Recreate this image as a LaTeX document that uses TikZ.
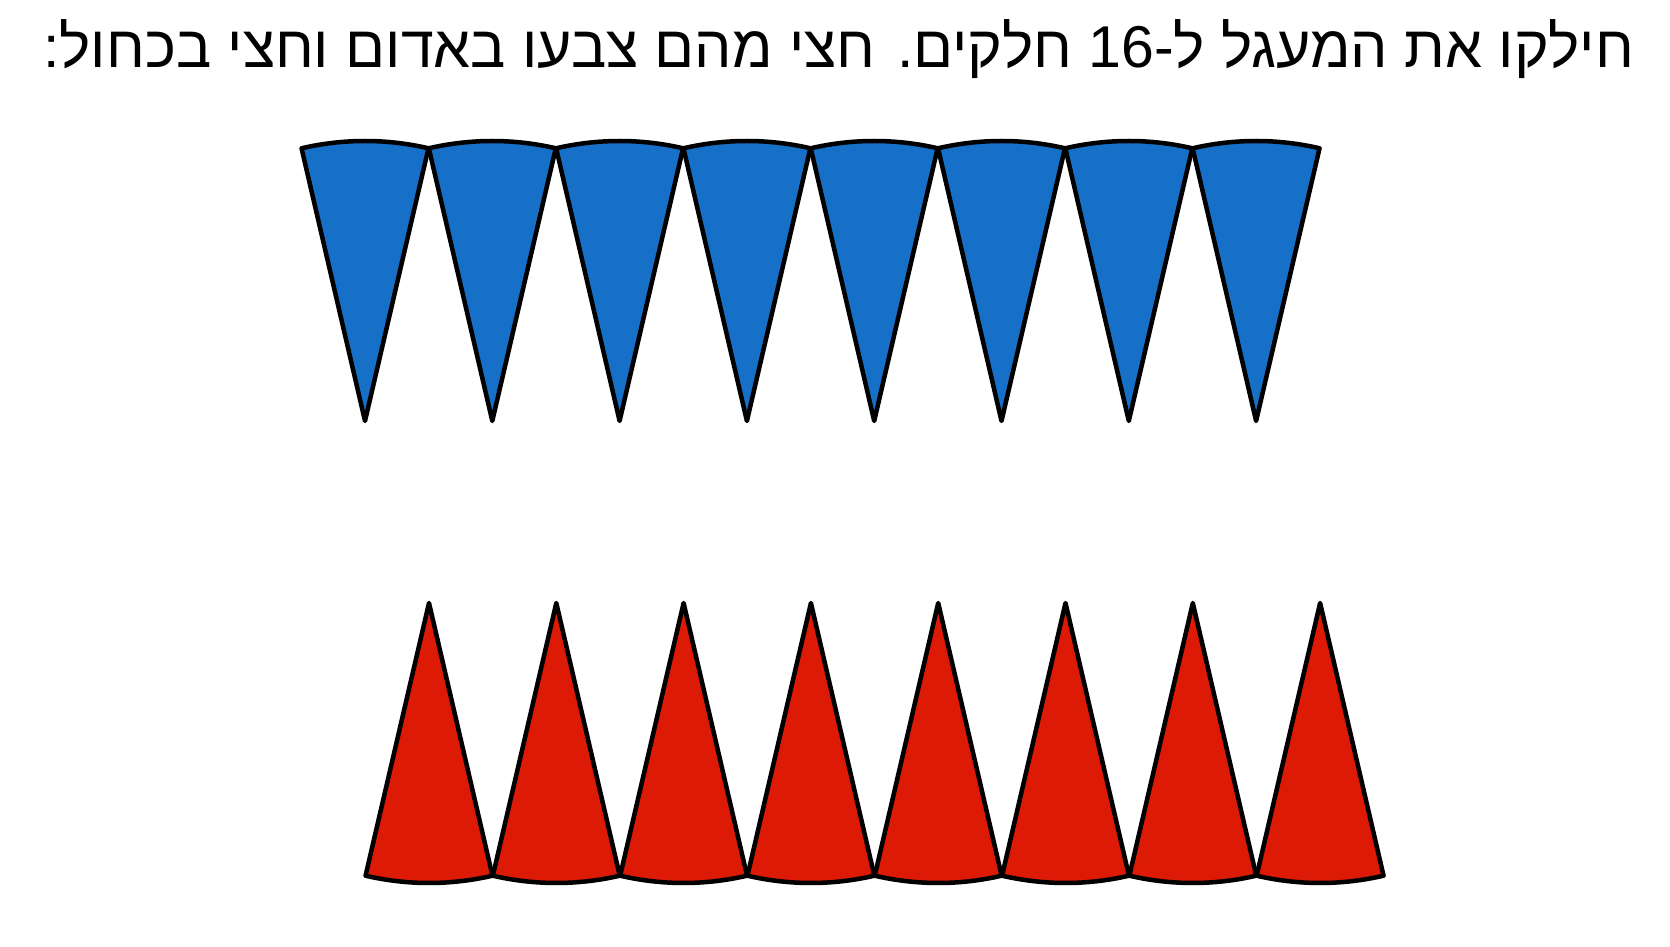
\documentclass[tikz,border=0pt]{standalone}
\usepackage{fontspec}
\newfontfamily\hebfont[Script=Hebrew]{Liberation Sans}
\TeXXeTstate=1
\definecolor{pieceblue}{RGB}{22,112,200}
\definecolor{piecered}{RGB}{221,26,5}

\begin{document}
\begin{tikzpicture}[x=1pt, y=1pt,
	piece/.style={draw=black, line width=4.5pt, line join=round},
	every node/.style={font=\hebfont\fontsize{59}{70}\selectfont}]
	\useasboundingbox (0,0) rectangle (1670,947);
	\node[anchor=base, inner sep=0pt] (title) at (838.5,879) {\beginR חילקו את המעגל ל-\beginL16\endL{} חלקים. חצי מהם צבעו באדום וחצי בכחול:\endR};
	% blue half, tips down
	\foreach \i in {0,...,7}
		\draw[piece, fill=pieceblue] ({365+127.3*\i},526) -- ++(76.9:280) arc[start angle=76.9, end angle=103.1, radius=280] -- cycle;
	% red half, tips up
	\foreach \i in {0,...,7}
		\draw[piece, fill=piecered] ({429+127.3*\i},344) -- ++(256.9:280) arc[start angle=256.9, end angle=283.1, radius=280] -- cycle;
\end{tikzpicture}
\end{document}
